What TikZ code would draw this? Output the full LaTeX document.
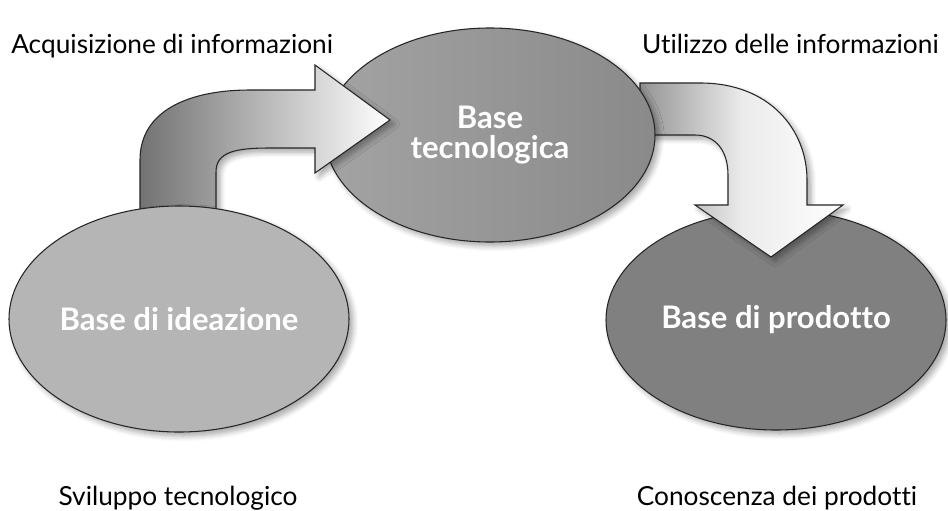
\documentclass[tikz,border=0pt]{standalone}
\usepackage{fontspec}
\setmainfont[Ligatures=NoCommon]{Lato}
\usetikzlibrary{shapes.geometric,shadows.blur}
\definecolor{ideaC}{gray}{0.71}
\definecolor{tecL}{gray}{0.64}
\definecolor{tecR}{gray}{0.54}
\definecolor{prodC}{gray}{0.50}
\tikzset{
  shd/.style={blur shadow={shadow xshift=3pt,shadow yshift=-3pt,shadow blur steps=6,shadow opacity=35,shadow blur radius=4pt}},
  basebox/.style={ellipse,inner sep=0pt,draw=black!85,line width=0.8pt,shd,
    text=white,font=\fontsize{23.3}{24}\selectfont\bfseries,align=center},
  blockarrow/.style={draw=black!85,line width=0.8pt,line join=miter,shd},
  lbl/.style={inner sep=0pt,font=\fontsize{19.7}{21}\selectfont,text=black}
}
\begin{document}
\begin{tikzpicture}[x=0.75pt,y=-0.75pt]
\useasboundingbox (0,0) rectangle (948,510);
% right ellipse
\node[basebox,fill=prodC,minimum width=255pt,minimum height=165pt] (prod) at (776,320) {Base di prodotto};
% right arrow
\draw[blockarrow,left color=black!42,right color=white,middle color=black!8]
  (640,83) -- (700,83) .. controls (770,83) and (807,130) .. (807,180)
  -- (807,205) -- (843,205) -- (771,257) -- (695,205) -- (728,205)
  -- (728,175) .. controls (728,150) and (715,135) .. (695,135) -- (640,135) -- cycle;
% middle ellipse
\node[basebox,left color=tecL,right color=tecR,minimum width=247.5pt,minimum height=160.5pt,
  font=\fontsize{23.3}{22.5}\selectfont\bfseries] (tec) at (490,135) {Base\\tecnologica};
% left arrow
\draw[blockarrow,left color=black!55,middle color=black!15,right color=white]
  (140,230) -- (140,160) .. controls (140,110) and (190,90) .. (250,90) -- (315,90)
  -- (315,65) -- (390,120) -- (315,173) -- (315,148) -- (270,148)
  .. controls (235,148) and (216,152) .. (216,172) -- (216,230) -- cycle;
% left ellipse
\node[basebox,fill=ideaC,minimum width=255pt,minimum height=169.5pt] (idea) at (179,319) {Base di ideazione};
% labels
\node[lbl,anchor=base west] (acq) at (11,54) {Acquisizione di informazioni};
\node[lbl,anchor=base east] (uti) at (939,54) {Utilizzo delle informazioni};
\node[lbl,anchor=base] (svi) at (178,505) {Sviluppo tecnologico};
\node[lbl,anchor=base] (con) at (777,505) {Conoscenza dei prodotti};
\end{tikzpicture}
\end{document}
